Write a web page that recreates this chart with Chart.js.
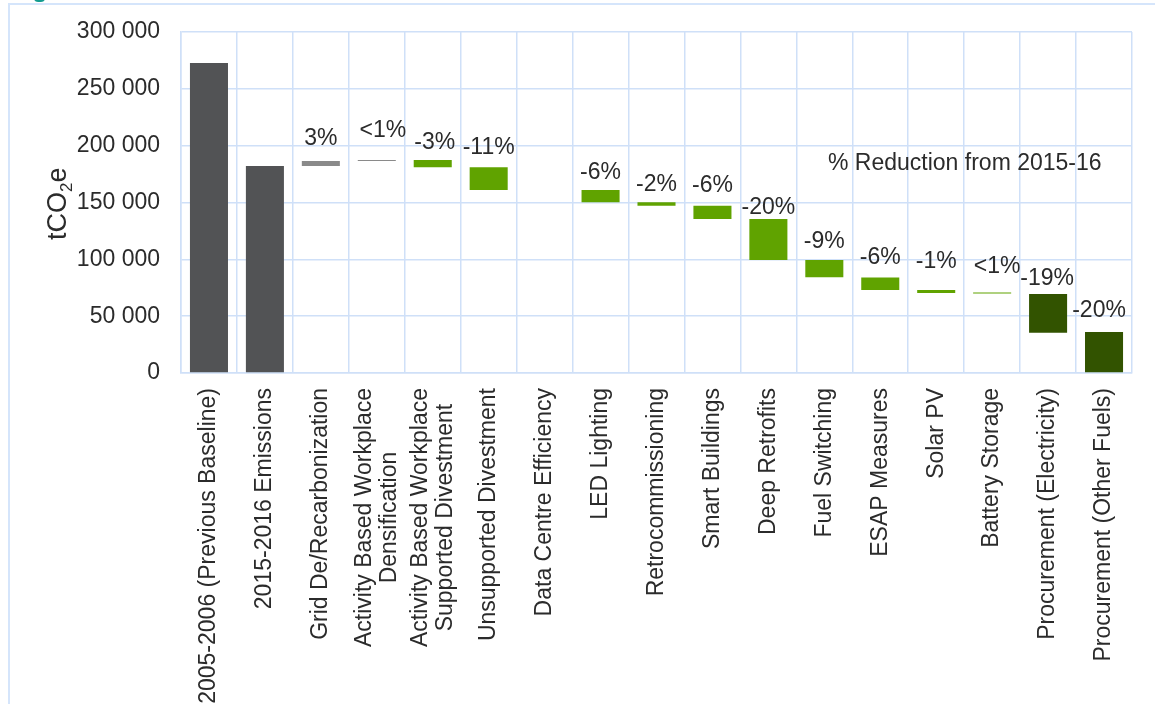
<!DOCTYPE html>
<html>
<head>
<meta charset="utf-8">
<script src="https://cdn.jsdelivr.net/npm/chart.js@4"></script>
<style>
  html, body { margin: 0; padding: 0; background: #fff; overflow: hidden; }
  #wrap { position: relative; width: 1155px; height: 704px; }
  #frame { position: absolute; left: 8px; top: 3px; width: 1200px; height: 760px; border: 2px solid #d5e5fb; }
  #tab { position: absolute; left: 34px; top: -2px; width: 11px; height: 4px; background: #139c90; border-radius: 0 0 5px 5px; }
  canvas { position: absolute; left: 0; top: 0; }
</style>
</head>
<body>
<div id="wrap">
  <div id="frame"></div>
  <div id="tab"></div>
  <canvas id="chart" width="1155" height="704"></canvas>
</div>
<script>
// emission steps, tCO2e
const categories = [
  ['2005-2006 (Previous Baseline)'],
  ['2015-2016 Emissions'],
  ['Grid De/Recarbonization'],
  ['Activity Based Workplace', 'Densification'],
  ['Activity Based Workplace', 'Supported Divestment'],
  ['Unsupported Divestment'],
  ['Data Centre Efficiency'],
  ['LED Lighting'],
  ['Retrocommissioning'],
  ['Smart Buildings'],
  ['Deep Retrofits'],
  ['Fuel Switching'],
  ['ESAP Measures'],
  ['Solar PV'],
  ['Battery Storage'],
  ['Procurement (Electricity)'],
  ['Procurement (Other Fuels)']
];
const barLow  = [0, 0, 182100, 186600, 181000, 161000, null, 150200, 147200, 135500, 99400, 84200, 73000, 70400, 70000, 35500, 0];
const barHigh = [272700, 182100, 186500, 187100, 187300, 181000, null, 161000, 150200, 147200, 135500, 99400, 84000, 73000, 70400, 69500, 36000];
const barKind = ['total', 'total', 'increase', 'increase', 'cut', 'cut', 'cut', 'cut', 'cut', 'cut',
                 'cut', 'cut', 'cut', 'cut', 'cut', 'procure', 'procure'];
const pctLabels = ['', '', '3%', '<1%', '-3%', '-11%', '', '-6%', '-2%', '-6%', '-20%', '-9%', '-6%', '-1%', '<1%', '-19%', '-20%'];
const yTicks = [0, 50000, 100000, 150000, 200000, 250000, 300000];

const kindColors = { total: '#525355', increase: '#8a8a8a', cut: '#60a300', procure: '#325300' };
// per-label nudge [dx, gap above bar top]
const labelNudge = [[0,0],[0,0],[0,16],[6,23],[2,11],[0,13],[0,0],[0,11],[0,11],[0,14],[0,5],[0,12],[0,14],[0,22],[5,20],[-1,9],[-5,15]];

const FONT = '"Liberation Sans", Arial, sans-serif';
const TXT = '#2b2b2b';
const GRID = '#cfe0f8';

function spaced(v) {
  return String(v).replace(/\B(?=(\d{3})+(?!\d))/g, ' ');
}

const extras = {
  id: 'extras',
  afterDatasetsDraw(chart) {
    const ctx = chart.ctx;
    const y = chart.scales.y;
    const meta = chart.getDatasetMeta(0);
    ctx.save();
    ctx.fillStyle = TXT;
    ctx.font = '23px ' + FONT;
    ctx.textAlign = 'center';
    ctx.textBaseline = 'alphabetic';
    meta.data.forEach((bar, i) => {
      if (!pctLabels[i]) return;
      const top = y.getPixelForValue(barHigh[i]);
      ctx.fillText(pctLabels[i], bar.x + labelNudge[i][0], top - labelNudge[i][1]);
    });
    ctx.restore();
  },
  afterDraw(chart) {
    const ctx = chart.ctx;
    const x = chart.scales.x;
    const area = chart.chartArea;
    ctx.save();
    ctx.fillStyle = TXT;

    // rotated category names, anchored just under the axis
    ctx.font = '23px ' + FONT;
    const pitch = 25;
    categories.forEach((lines, i) => {
      const cx = x.getPixelForValue(i);
      const w = Math.max(...lines.map(l => ctx.measureText(l).width));
      ctx.save();
      ctx.translate(cx, area.bottom + 15);
      ctx.rotate(-Math.PI / 2);
      ctx.textAlign = 'center';
      ctx.textBaseline = 'middle';
      lines.forEach((l, j) => {
        ctx.fillText(l, -w / 2, (j - (lines.length - 1) / 2) * pitch);
      });
      ctx.restore();
    });

    // y axis title with subscript
    ctx.save();
    ctx.translate(66, 240);
    ctx.rotate(-Math.PI / 2);
    ctx.textAlign = 'left';
    ctx.textBaseline = 'alphabetic';
    ctx.font = '27px ' + FONT;
    ctx.fillText('tCO', 0, 0);
    let off = ctx.measureText('tCO').width;
    ctx.font = '17px ' + FONT;
    ctx.fillText('2', off, 6);
    off += ctx.measureText('2').width;
    ctx.font = '27px ' + FONT;
    ctx.fillText('e', off, 0);
    ctx.restore();

    // note in the plot area
    ctx.font = '23px ' + FONT;
    ctx.textAlign = 'left';
    ctx.textBaseline = 'alphabetic';
    ctx.fillText('% Reduction from 2015-16', area.left + 647, area.top + 138);
    ctx.restore();
  }
};

new Chart(document.getElementById('chart'), {
  type: 'bar',
  data: {
    labels: categories.map(c => c.join(' ')),
    datasets: [{
      data: barLow.map((lo, i) => lo == null ? null : [lo, barHigh[i]]),
      backgroundColor: barKind.map(k => kindColors[k]),
      borderWidth: 0,
      barPercentage: 0.68,
      categoryPercentage: 1,
      minBarLength: 1
    }]
  },
  options: {
    responsive: false,
    animation: false,
    devicePixelRatio: 1,
    layout: { padding: { top: 32, right: 23, left: 0, bottom: 0 } },
    plugins: { legend: { display: false }, tooltip: { enabled: false } },
    scales: {
      x: {
        offset: true,
        grid: { color: GRID, lineWidth: 1.5, offset: true, drawTicks: false },
        border: { color: GRID, width: 1.5 },
        ticks: { display: false },
        afterFit(scale) { scale.height = 331; }
      },
      y: {
        min: 0,
        max: 300000,
        afterBuildTicks(scale) { scale.ticks = yTicks.map(v => ({ value: v })); },
        grid: { color: GRID, lineWidth: 1.5, drawTicks: false },
        border: { color: GRID, width: 1.5 },
        ticks: {
          padding: 21,
          color: TXT,
          font: { size: 23, family: FONT },
          callback: v => spaced(v)
        },
        afterFit(scale) {
          scale.width = 181;
          scale.paddingTop = 0;
          scale.paddingBottom = 0;
        }
      }
    }
  },
  plugins: [extras]
});
</script>
</body>
</html>
